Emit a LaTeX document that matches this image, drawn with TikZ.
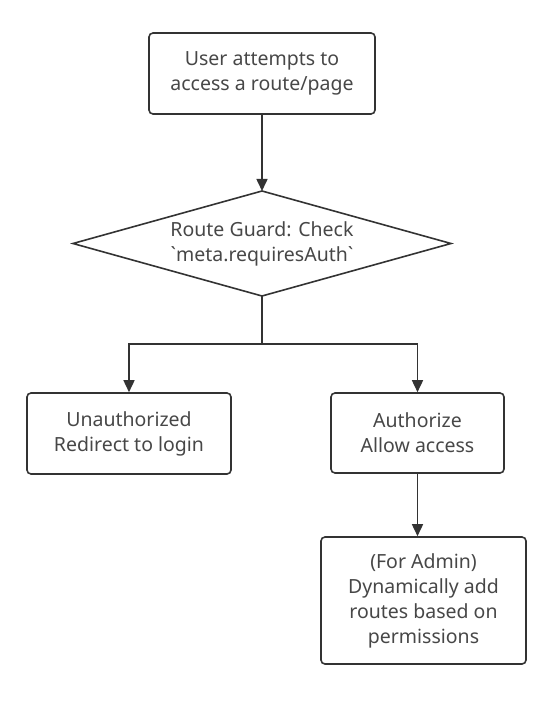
\documentclass[tikz,border=0pt]{standalone}
\usepackage{fontspec}
\setmainfont{Noto Sans}[Ligatures=TeXOff]
\usetikzlibrary{shapes.geometric,arrows.meta}
\definecolor{ln}{HTML}{333333}
\tikzset{
  txt/.style={align=center, font=\fontsize{19.5}{25}\selectfont, text=ln!90},
  box/.style={txt, draw=ln, line width=1.6pt, rounded corners=4pt, inner sep=0pt},
  arr/.style={draw=ln, line width=1.6pt, -{Triangle[length=12pt,width=11pt]}},
  ln/.style={draw=ln, line width=1.6pt}
}
\begin{document}
\begin{tikzpicture}[x=1pt,y=-1pt]
\useasboundingbox (0,0) rectangle (548,703);
\node[box, minimum width=226pt, minimum height=81pt] (start) at (262,73.5) {User attempts to\\access a route/page};
\coordinate (dl) at (73,243.5);
\coordinate (dtop) at (262,191);
\coordinate (dr) at (451,243.5);
\coordinate (dbot) at (262,296);
\draw[ln] (dl) -- (dtop) -- (dr) -- (dbot) -- cycle;
\node[txt] (guard) at (262,243.5) {Route Guard: Check\\`meta.requiresAuth`};
\coordinate (split) at (262,344);
\node[box, minimum width=204pt, minimum height=81pt] (unauth) at (129,433.5) {Unauthorized\\Redirect to login};
\node[box, minimum width=173pt, minimum height=80pt] (auth) at (417.5,433) {Authorize\\Allow access};
\node[box, minimum width=205pt, minimum height=127pt] (admin) at (423.5,600.5) {(For Admin)\\Dynamically add\\routes based on\\permissions};
\draw[arr] (start.south) -- (dtop);
\draw[ln] (dbot) -- (split);
\draw[arr] (split) -| (unauth.north);
\draw[arr] (split) -| (auth.north);
\draw[arr] (auth.south) -- (auth.south |- admin.north);
\end{tikzpicture}
\end{document}
